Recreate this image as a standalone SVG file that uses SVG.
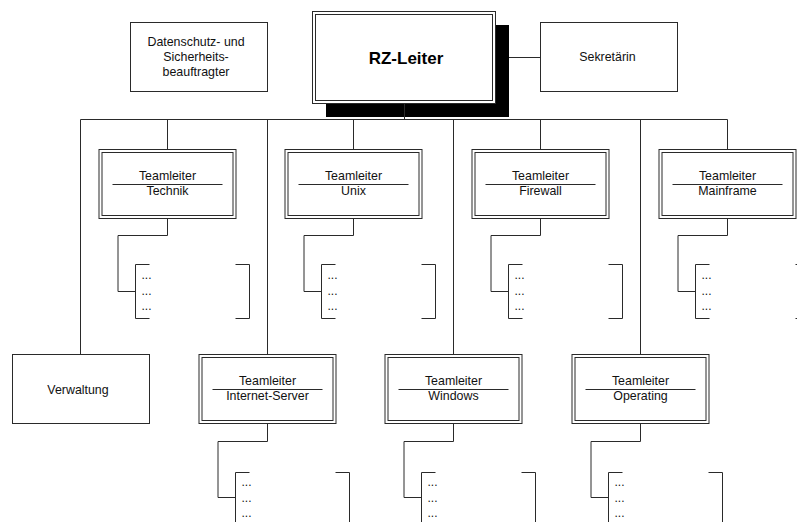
<svg xmlns="http://www.w3.org/2000/svg" width="797" height="522" viewBox="0 0 797 522">
<style>
.box{fill:#fff;stroke:#2a2a2a;stroke-width:1}
.ln{fill:none;stroke:#2a2a2a;stroke-width:1}
.dv{stroke:#2a2a2a;stroke-width:1.2}
.t{font-family:"Liberation Sans",Arial,sans-serif;font-size:12.4px;fill:#111;text-anchor:middle}
.d{font-family:"Liberation Sans",Arial,sans-serif;font-size:12px;fill:#111}
.b{font-family:"Liberation Sans",Arial,sans-serif;font-size:17px;font-weight:bold;fill:#000;text-anchor:middle}
</style>
<rect width="797" height="522" fill="#fff"/>
<g id="connectors">
<path class="ln" d="M80.5 119.5H727.5"/>
<path class="ln" d="M509 57.5H540.5"/>
<path class="ln" d="M80.5 119.5V354.5M167.5 119.5V149.5M267.5 119.5V354.5M353.5 119.5V149.5M453.5 119.5V354.5M540.5 119.5V149.5M640.5 119.5V354.5M727.5 119.5V149.5"/>
<path class="ln" d="M167.5 218V235.5H118V291.5H135.5M353.5 218V235.5H304V291.5H321.5M540.5 218V235.5H491V291.5H508.5M727.5 218V235.5H678V291.5H695.5"/>
<path class="ln" d="M267.5 424V441.5H218V497.5H235.5M453.5 424V441.5H404V497.5H421.5M640.5 424V441.5H591V497.5H608.5"/>
</g>
<g id="rz-leiter">
<rect x="326" y="25" width="183" height="92" fill="#000"/>
<rect class="box" x="312.5" y="11.5" width="183" height="92"/>
<rect class="box" x="315.5" y="14.5" width="177" height="86"/>
<text class="b" x="406" y="63.5">RZ-Leiter</text>
<path class="ln" d="M404.5 103V119.5" stroke="#444"/>
</g>
<g id="datenschutz">
<rect class="box" x="130.5" y="22.5" width="137" height="69"/>
<text class="t" x="196" y="46">Datenschutz- und</text>
<text class="t" x="196" y="61">Sicherheits-</text>
<text class="t" x="196" y="76">beauftragter</text>
</g>
<g id="sekretaerin">
<rect class="box" x="540.5" y="22.5" width="137" height="69"/>
<text class="t" x="607.5" y="61">Sekretärin</text>
</g>
<g id="verwaltung">
<rect class="box" x="12.5" y="354.5" width="137" height="69"/>
<text class="t" x="78" y="393.5">Verwaltung</text>
</g>
<g id="technik">
<rect class="box" x="99" y="149.5" width="137" height="69"/>
<rect class="box" x="102" y="152.5" width="131" height="63"/>
<text class="t" x="167.5" y="180">Teamleiter</text>
<line class="dv" x1="112.5" y1="184.5" x2="222.5" y2="184.5"/>
<text class="t" x="167.5" y="194.5">Technik</text>
<path class="ln" d="M149.5 264.5H135.5V318.5H149.5M235.5 264.5H249.5V318.5H235.5"/>
<text class="d" x="141.5" y="279">...</text><text class="d" x="141.5" y="294.5">...</text><text class="d" x="141.5" y="309.5">...</text>
</g>
<g id="unix">
<rect class="box" x="285" y="149.5" width="137" height="69"/>
<rect class="box" x="288" y="152.5" width="131" height="63"/>
<text class="t" x="353.5" y="180">Teamleiter</text>
<line class="dv" x1="298.5" y1="184.5" x2="408.5" y2="184.5"/>
<text class="t" x="353.5" y="194.5">Unix</text>
<path class="ln" d="M335.5 264.5H321.5V318.5H335.5M421.5 264.5H435.5V318.5H421.5"/>
<text class="d" x="327.5" y="279">...</text><text class="d" x="327.5" y="294.5">...</text><text class="d" x="327.5" y="309.5">...</text>
</g>
<g id="firewall">
<rect class="box" x="472" y="149.5" width="137" height="69"/>
<rect class="box" x="475" y="152.5" width="131" height="63"/>
<text class="t" x="540.5" y="180">Teamleiter</text>
<line class="dv" x1="485.5" y1="184.5" x2="595.5" y2="184.5"/>
<text class="t" x="540.5" y="194.5">Firewall</text>
<path class="ln" d="M522.5 264.5H508.5V318.5H522.5M608.5 264.5H622.5V318.5H608.5"/>
<text class="d" x="514.5" y="279">...</text><text class="d" x="514.5" y="294.5">...</text><text class="d" x="514.5" y="309.5">...</text>
</g>
<g id="mainframe">
<rect class="box" x="659" y="149.5" width="137" height="69"/>
<rect class="box" x="662" y="152.5" width="131" height="63"/>
<text class="t" x="727.5" y="180">Teamleiter</text>
<line class="dv" x1="672.5" y1="184.5" x2="782.5" y2="184.5"/>
<text class="t" x="727.5" y="194.5">Mainframe</text>
<path class="ln" d="M709.5 264.5H695.5V318.5H709.5M795.5 264.5H809.5V318.5H795.5"/>
<text class="d" x="701.5" y="279">...</text><text class="d" x="701.5" y="294.5">...</text><text class="d" x="701.5" y="309.5">...</text>
</g>
<g id="internet-server">
<rect class="box" x="199" y="354.5" width="137" height="69"/>
<rect class="box" x="202" y="357.5" width="131" height="63"/>
<text class="t" x="267.5" y="384.5">Teamleiter</text>
<line class="dv" x1="212.5" y1="389.5" x2="322.5" y2="389.5"/>
<text class="t" x="267.5" y="400">Internet-Server</text>
<path class="ln" d="M249.5 472.5H235.5V530M335.5 472.5H349.5V530"/>
<text class="d" x="241.5" y="486">...</text><text class="d" x="241.5" y="501.5">...</text><text class="d" x="241.5" y="517">...</text>
</g>
<g id="windows">
<rect class="box" x="385" y="354.5" width="137" height="69"/>
<rect class="box" x="388" y="357.5" width="131" height="63"/>
<text class="t" x="453.5" y="384.5">Teamleiter</text>
<line class="dv" x1="398.5" y1="389.5" x2="508.5" y2="389.5"/>
<text class="t" x="453.5" y="400">Windows</text>
<path class="ln" d="M435.5 472.5H421.5V530M521.5 472.5H535.5V530"/>
<text class="d" x="427.5" y="486">...</text><text class="d" x="427.5" y="501.5">...</text><text class="d" x="427.5" y="517">...</text>
</g>
<g id="operating">
<rect class="box" x="572" y="354.5" width="137" height="69"/>
<rect class="box" x="575" y="357.5" width="131" height="63"/>
<text class="t" x="640.5" y="384.5">Teamleiter</text>
<line class="dv" x1="585.5" y1="389.5" x2="695.5" y2="389.5"/>
<text class="t" x="640.5" y="400">Operating</text>
<path class="ln" d="M622.5 472.5H608.5V530M708.5 472.5H722.5V530"/>
<text class="d" x="614.5" y="486">...</text><text class="d" x="614.5" y="501.5">...</text><text class="d" x="614.5" y="517">...</text>
</g>
</svg>
